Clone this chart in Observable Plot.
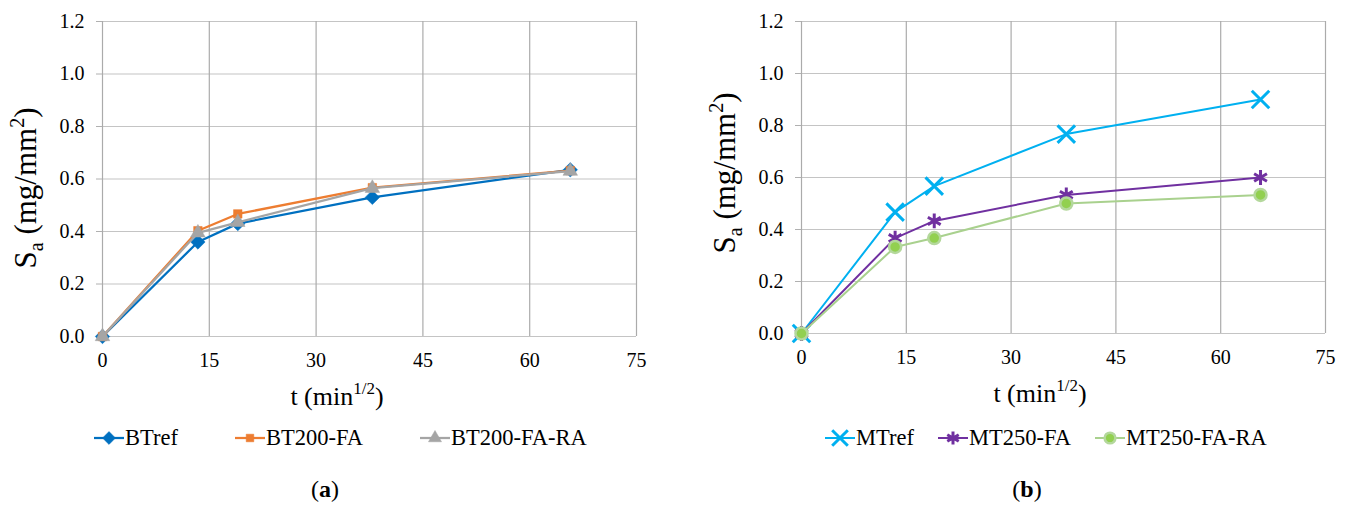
<!DOCTYPE html>
<html><head><meta charset="utf-8">
<script src="https://cdn.jsdelivr.net/npm/d3@7"></script>
<script src="https://cdn.jsdelivr.net/npm/@observablehq/plot@0.6"></script>
<style>
body{margin:0;background:#fff;}
#root{position:relative;width:1352px;height:509px;overflow:hidden;font-family:'Liberation Serif','Times New Roman',serif;color:#000;}
.panel{position:absolute;top:0;width:676px;height:509px;}
.panel svg.plot{position:absolute;left:0;top:0;}
.leg{position:absolute;top:425px;height:26px;display:flex;align-items:center;font-size:22.5px;line-height:26px;white-space:nowrap;font-family:'Liberation Serif','Times New Roman',serif;}
.leg svg{display:block;margin-right:1px;}
.cap{position:absolute;top:476px;font-size:24px;transform:translateX(-50%);white-space:nowrap;font-family:'Liberation Serif','Times New Roman',serif;}
</style></head><body><div id="root"></div>
<script>
// ---- data ----
const tValues = [0, 13.4, 19.0, 37.9, 65.7];           // t (min^1/2)
const xTicks = [0, 15, 30, 45, 60, 75];
const yTicks = [0, 0.2, 0.4, 0.6, 0.8, 1.0, 1.2];

const seriesA = ["BTref", "BT200-FA", "BT200-FA-RA"];
const BTref      = [0, 0.360, 0.430, 0.530, 0.635];
const BT200_FA   = [0, 0.403, 0.467, 0.567, 0.632];
const BT200_FA_RA= [0, 0.395, 0.435, 0.565, 0.630];

const seriesB = ["MTref", "MT250-FA", "MT250-FA-RA"];
const MTref       = [0, 0.467, 0.567, 0.767, 0.900];
const MT250_FA    = [0, 0.367, 0.433, 0.533, 0.600];
const MT250_FA_RA = [0, 0.333, 0.367, 0.500, 0.533];

// ---- styles ----
const stylesA = [
  {line:"#0070c0", lw:2.25, symbol:"diamond2", r:6.5, fill:"#0070c0", stroke:"#0070c0", sw:0.5},
  {line:"#ed7d31", lw:2.25, symbol:"square", r:4.8, fill:"#ed7d31", stroke:"#ed7d31", sw:0.5},
  {line:"#a5a5a5", lw:2.25, symbol:"triangle", r:5.4, fill:"#a5a5a5", stroke:"#a5a5a5", sw:0.5}
];
const stylesB = [
  {line:"#00b0f0", lw:2, symbol:"times", r:8, fill:"none", stroke:"#00b0f0", sw:3},
  {line:"#7030a0", lw:2, symbol:"asterisk", r:7, fill:"none", stroke:"#7030a0", sw:3},
  {line:"#a9d18e", lw:2, symbol:"circle", r:6, fill:"#92d050", stroke:"#b4d89c", sw:2.5}
];

const FONT = "'Liberation Serif','Times New Roman',serif";
const symMap = {diamond2:d3.symbolDiamond2, square:d3.symbolSquare, triangle:d3.symbolTriangle, times:d3.symbolTimes, asterisk:d3.symbolAsterisk, circle:d3.symbolCircle};

function makePanel(opts){
  const {left, series, values, styles, ml, mr, mb, yTitle, xTitle, legendPos, caption} = opts;
  const W = 676, H = 420;
  const marks = [
    Plot.gridY(yTicks, {stroke:"#c4c4c4", strokeOpacity:1, strokeWidth:1.2}),
    Plot.gridX(xTicks, {stroke:"#ababab", strokeOpacity:1, strokeWidth:1.2}),
    Plot.axisY(yTicks, {tickFormat:d3.format(".1f"), tickSize:6, tickPadding:12, stroke:"#b0b0b0", fill:"#000", fontSize:20, fontFamily:FONT, label:null}),
    Plot.axisX(xTicks, {tickFormat:d3.format("d"), tickSize:0, tickPadding:16, fill:"#000", fontSize:20, fontFamily:FONT, label:null})
  ];
  series.forEach((name, i) => {
    const data = tValues.map((t, k) => ({t, v: values[i][k], name}));
    const s = styles[i];
    marks.push(Plot.line(data, {x:"t", y:"v", stroke:s.line, strokeWidth:s.lw}));
    marks.push(Plot.dot(data, {x:"t", y:"v", symbol:()=>s.symbol, r:s.r, fill:s.fill, stroke:s.stroke, strokeWidth:s.sw}));
  });
  const svg = Plot.plot({
    width: W, height: H,
    marginLeft: ml, marginRight: mr, marginTop: 21, marginBottom: mb,
    x: {domain:[0,75], axis:null},
    y: {domain:[0,1.2], axis:null},
    symbol: {type:"identity"},
    style: {fontFamily: FONT, background:"transparent", overflow:"visible"},
    marks
  });
  svg.classList.add("plot");
  svg.style.fontFamily = FONT;
  const sel = d3.select(svg);
  sel.selectAll("text").attr("font-family", FONT);
  // y title
  const yt = sel.append("text")
    .attr("transform", `translate(${yTitle.x},${yTitle.y}) rotate(-90)`)
    .attr("text-anchor","middle").attr("font-size", 31).attr("font-family", FONT).attr("fill","#000");
  yt.append("tspan").text("S");
  yt.append("tspan").attr("font-size", 20).attr("dy", 7).text("a");
  yt.append("tspan").attr("dy", -7).text(" (mg/mm");
  yt.append("tspan").attr("font-size", 20).attr("dy", -12).text("2");
  yt.append("tspan").attr("dy", 12).text(")");
  // x title
  const xt = sel.append("text")
    .attr("x", xTitle.x).attr("y", xTitle.y)
    .attr("text-anchor","middle").attr("font-size", 26).attr("font-family", FONT).attr("fill","#000");
  xt.append("tspan").text("t (min");
  xt.append("tspan").attr("font-size", 17).attr("dy", -11).text("1/2");
  xt.append("tspan").attr("dy", 11).text(")");

  const panel = document.createElement("div");
  panel.className = "panel";
  panel.style.left = left + "px";
  panel.appendChild(svg);

  // legend (HTML)
  series.forEach((name, i) => {
    const s = styles[i];
    const item = document.createElement("div");
    item.className = "leg";
    item.style.left = legendPos[i] + "px";
    const sw = d3.create("svg").attr("width", 30).attr("height", 20);
    sw.append("line").attr("x1",0).attr("x2",30).attr("y1",10).attr("y2",10).attr("stroke", s.line).attr("stroke-width", s.lw);
    sw.append("path").attr("transform","translate(15,10)")
      .attr("d", d3.symbol(symMap[s.symbol], Math.PI*s.r*s.r*0.8)())
      .attr("fill", s.fill).attr("stroke", s.stroke).attr("stroke-width", s.sw);
    item.appendChild(sw.node());
    const label = document.createElement("span");
    label.textContent = name;
    item.appendChild(label);
    panel.appendChild(item);
  });
  const cap = document.createElement("div");
  cap.className = "cap";
  cap.style.left = caption.x + "px";
  cap.innerHTML = `(<b>${caption.letter}</b>)`;
  panel.appendChild(cap);
  return panel;
}

const root = document.getElementById("root");
root.appendChild(makePanel({
  left: 0, series: seriesA, values: [BTref, BT200_FA, BT200_FA_RA], styles: stylesA,
  ml: 102, mr: 40, mb: 84,
  yTitle: {x: 36, y: 188}, xTitle: {x: 337, y: 405},
  legendPos: [94, 235, 420], caption: {x: 325, letter: "a"}
}));
root.appendChild(makePanel({
  left: 676, series: seriesB, values: [MTref, MT250_FA, MT250_FA_RA], styles: stylesB,
  ml: 125, mr: 27, mb: 87,
  yTitle: {x: 59, y: 173}, xTitle: {x: 364, y: 402},
  legendPos: [149, 262, 419], caption: {x: 351, letter: "b"}
}));
</script></body></html>
